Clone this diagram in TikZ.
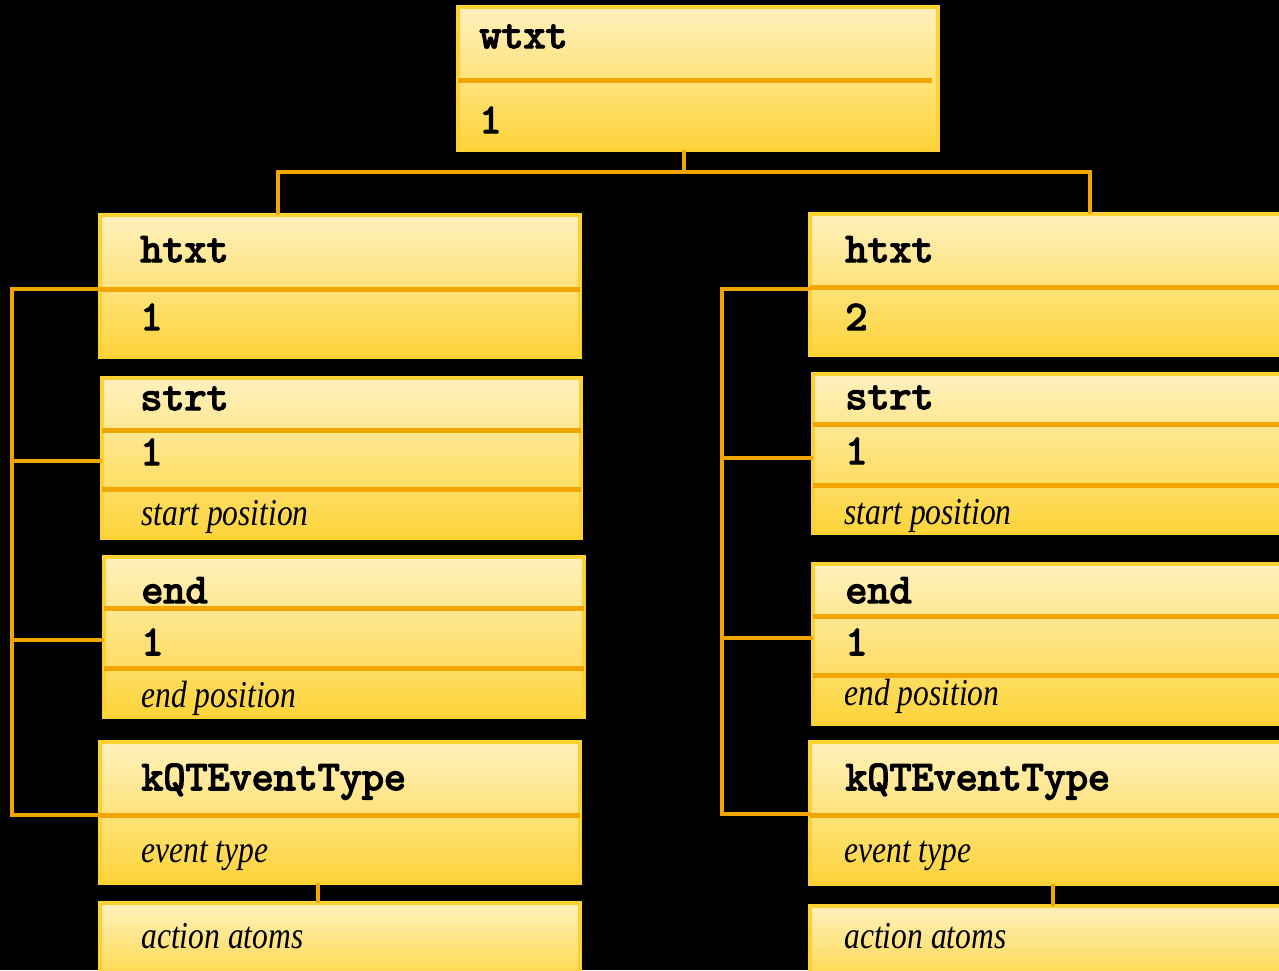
\documentclass[tikz,border=0pt]{standalone}
\usepackage{fontspec}
\usetikzlibrary{fit,calc}
\newfontfamily\descfont{Liberation Serif}[FakeStretch=0.83]
\newfontfamily\codefont{lmmono10-regular.otf}[FakeBold=3.5]
\definecolor{cTop}{HTML}{FFF1BE}
\definecolor{cMid}{HTML}{FEE69C}
\definecolor{cBot}{HTML}{FDD43A}
\definecolor{cEdge}{HTML}{FCD232}
\definecolor{cDark}{HTML}{6B5A10}
\definecolor{cLink}{HTML}{F0A500}
\tikzset{
  fieldbox/.style={inner sep=0pt, outer sep=0pt, top color=cTop, middle color=cMid,
    bottom color=cBot, draw=cEdge, line width=1.6pt,
    preaction={draw=cDark, line width=2.3pt}},
  sepline/.style={draw=cLink, line width=2.5pt},
  link/.style={draw=cLink, line width=2.2pt, line join=miter},
  code/.style={anchor=base west, inner sep=0pt, font=\codefont\fontsize{21}{23}\selectfont},
  desc/.style={anchor=base west, inner sep=0pt, font=\descfont\itshape\fontsize{19}{21}\selectfont},
}
\begin{document}
\begin{tikzpicture}[x=0.5pt, y=-0.5pt]
\useasboundingbox (0,0) rectangle (1279,970);
\fill[black] (0,0) rectangle (1279,970);
\clip (0,0) rectangle (1279,970);

% record boxes
\node[fieldbox, fit={(458,7) (938,150)}] (wtxt) {};
\node[fieldbox, fit={(100,215) (580,357)}] (lhtxt) {};
\node[fieldbox, fit={(102,378) (581,538)}] (lstrt) {};
\node[fieldbox, fit={(104,557) (584,717)}] (lend) {};
\node[fieldbox, fit={(100,742) (580,883)}] (lkqt) {};
\node[fieldbox, fit={(100,903) (580,990)}] (lact) {};
\node[fieldbox, fit={(810,214) (1295,355)}] (rhtxt) {};
\node[fieldbox, fit={(813,374) (1295,533)}] (rstrt) {};
\node[fieldbox, fit={(813,564) (1295,724)}] (rend) {};
\node[fieldbox, fit={(810,742) (1295,884)}] (rkqt) {};
\node[fieldbox, fit={(810,906) (1295,990)}] (ract) {};

% field separators
\draw[sepline] (wtxt.west |- 0,80) -- ($(wtxt.east |- 0,80)+(-6,0)$);
\draw[sepline] (lhtxt.west |- 0,289) -- (lhtxt.east |- 0,289);
\draw[sepline] (lstrt.west |- 0,430) -- (lstrt.east |- 0,430);
\draw[sepline] (lstrt.west |- 0,489) -- (lstrt.east |- 0,489);
\draw[sepline] (lend.west |- 0,608) -- (lend.east |- 0,608);
\draw[sepline] (lend.west |- 0,668) -- (lend.east |- 0,668);
\draw[sepline] (lkqt.west |- 0,815) -- (lkqt.east |- 0,815);
\draw[sepline] (rhtxt.west |- 0,287) -- (rhtxt.east |- 0,287);
\draw[sepline] (rstrt.west |- 0,424) -- (rstrt.east |- 0,424);
\draw[sepline] (rstrt.west |- 0,485) -- (rstrt.east |- 0,485);
\draw[sepline] (rend.west |- 0,616) -- (rend.east |- 0,616);
\draw[sepline] (rend.west |- 0,675) -- (rend.east |- 0,675);
\draw[sepline] (rkqt.west |- 0,815) -- (rkqt.east |- 0,815);

% tree links
\coordinate (wtxt-stem) at ($(wtxt.south west)+(226,0)$);
\coordinate (lhtxt-stem) at ($(lhtxt.north west)+(178,0)$);
\coordinate (rhtxt-stem) at ($(rhtxt.north west)+(280,0)$);
\draw[link] (wtxt-stem) -- ++(0,22) coordinate (bus);
\draw[link] (lhtxt-stem) |- (bus) -| (rhtxt-stem);

\draw[link] (lhtxt.west |- 0,289) -- ++(-88,0) coordinate (lbus) |- (lkqt.west |- 0,815);
\draw[link] (lbus |- 0,461) -- (lstrt.west |- 0,461);
\draw[link] (lbus |- 0,640) -- (lend.west |- 0,640);
\draw[link] (rhtxt.west |- 0,289) -- ++(-88,0) coordinate (rbus) |- (rkqt.west |- 0,814);
\draw[link] (rbus |- 0,458) -- (rstrt.west |- 0,458);
\draw[link] (rbus |- 0,638) -- (rend.west |- 0,638);

\draw[link] ($(lkqt.south west)+(218,0)$) -- ($(lact.north west)+(218,0)$);
\draw[link] ($(rkqt.south west)+(243,0)$) -- ($(ract.north west)+(243,0)$);

% field texts
\node[code] (t-wtxt) at (479,48) {wtxt};
\node[code] (t-wval) at (479,133) {1};

\node[code] (t-lh) at (140,262) {htxt};
\node[code] (t-lhv) at (140,330) {1};
\node[code] (t-ls) at (140,410) {strt};
\node[code] (t-lsv) at (140,465) {1};
\node[desc] (t-lsd) at (141,525) {start position};
\node[code] (t-le) at (141,603) {end};
\node[code] (t-lev) at (141,655) {1};
\node[desc] (t-led) at (141,707) {end position};
\node[code] (t-lk) at (141,790) {kQTEventType};
\node[desc] (t-lkd) at (141,862) {event type};
\node[desc] (t-la) at (141,948) {action atoms};

\node[code] (t-rh) at (845,262) {htxt};
\node[code] (t-rhv) at (845,330) {2};
\node[code] (t-rs) at (845,409) {strt};
\node[code] (t-rsv) at (845,464) {1};
\node[desc] (t-rsd) at (844,524) {start position};
\node[code] (t-re) at (845,603) {end};
\node[code] (t-rev) at (845,655) {1};
\node[desc] (t-red) at (844,705) {end position};
\node[code] (t-rk) at (845,790) {kQTEventType};
\node[desc] (t-rkd) at (844,862) {event type};
\node[desc] (t-ra) at (844,948) {action atoms};
\end{tikzpicture}
\end{document}
